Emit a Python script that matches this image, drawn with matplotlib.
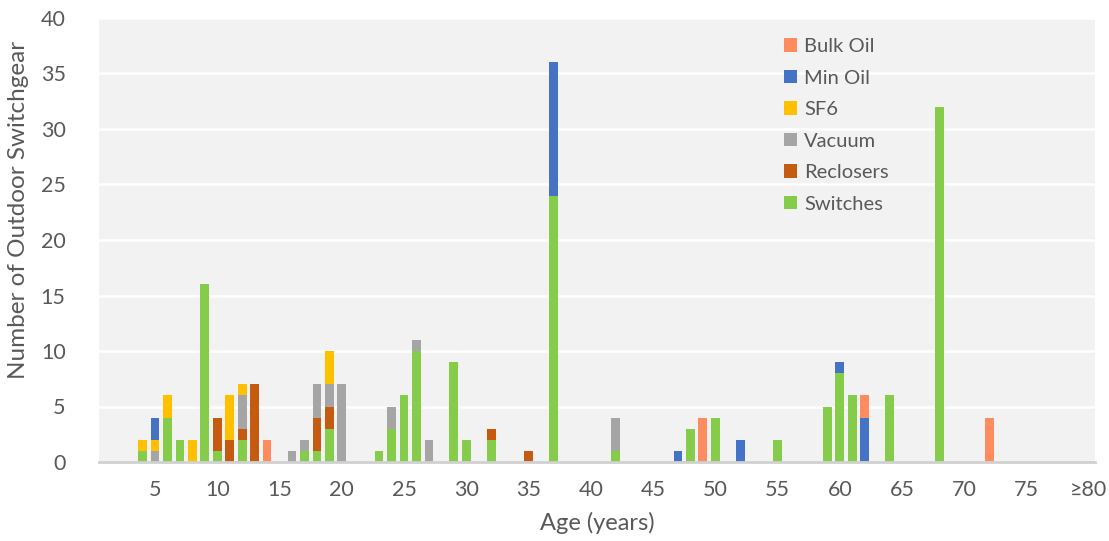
import matplotlib
matplotlib.use("Agg")
import matplotlib.pyplot as plt
import numpy as np

# ---- data (age in years -> count) ----
ages = list(range(1, 81))
switches = {4: 1, 6: 4, 7: 2, 9: 16, 10: 1, 12: 2, 17: 1, 18: 1, 19: 3, 23: 1, 24: 3,
            25: 6, 26: 10, 29: 9, 30: 2, 32: 2, 37: 24, 42: 1, 48: 3, 50: 4, 55: 2,
            59: 5, 60: 8, 61: 6, 64: 6, 68: 32}
reclosers = {10: 3, 11: 2, 12: 1, 13: 7, 18: 3, 19: 2, 32: 1, 35: 1}
vacuum = {5: 1, 12: 3, 16: 1, 17: 1, 18: 3, 19: 2, 20: 7, 24: 2, 26: 1, 27: 2, 42: 3}
sf6 = {4: 1, 5: 1, 6: 2, 8: 2, 11: 4, 12: 1, 19: 3}
min_oil = {5: 2, 37: 12, 47: 1, 52: 2, 60: 1, 62: 4}
bulk_oil = {14: 2, 49: 4, 62: 2, 72: 4}

tick_positions = list(range(5, 81, 5))
tick_labels = [str(a) for a in range(5, 80, 5)] + ["\u226580"]

series = [  # bottom to top
    ("Switches", switches, "#86CC4B"),
    ("Reclosers", reclosers, "#C55A11"),
    ("Vacuum", vacuum, "#A5A5A5"),
    ("SF6", sf6, "#FFC000"),
    ("Min Oil", min_oil, "#4472C4"),
    ("Bulk Oil", bulk_oil, "#FF8C5E"),
]

plt.rcParams['font.family'] = ['Lato', 'DejaVu Sans']
text_color = "#595959"

fig = plt.figure(figsize=(11.09, 5.41), dpi=100)
ax = fig.add_axes([99 / 1109, 1 - 462 / 541, 996 / 1109, 444 / 541])
ax.set_facecolor("#F2F2F2")

x = np.array(ages)
bottom = np.zeros(len(ages))
handles = []
for name, d, color in series:
    vals = np.array([d.get(a, 0) for a in ages], dtype=float)
    b = ax.bar(x, vals, width=0.7, bottom=bottom, color=color, label=name, zorder=3)
    handles.append(b)
    bottom += vals

ax.set_xlim(0.5, 80.5)
ax.set_ylim(0, 40)
ax.set_yticks(range(0, 41, 5))
ax.set_xticks(tick_positions)
ax.set_xticklabels(tick_labels)
ax.grid(axis='y', color='white', linewidth=1.8, zorder=0)
ax.set_axisbelow(True)
for s in ['top', 'right', 'left']:
    ax.spines[s].set_visible(False)
ax.spines['bottom'].set_color('#D0D0D0')
ax.spines['bottom'].set_linewidth(2)
ax.spines['bottom'].set_zorder(4)
ax.tick_params(axis='both', length=0, labelsize=15.5, colors=text_color)
ax.tick_params(axis='y', pad=24)
ax.tick_params(axis='x', pad=13)

fig.text(19 / 1109, 1 - 210 / 541, "Number of Outdoor Switchgear", rotation=90,
         ha='center', va='center', fontsize=17.5, color=text_color)
fig.text(597 / 1109, 1 - 523 / 541, "Age (years)", ha='center', va='center',
         fontsize=17, color=text_color)

leg = ax.legend(handles[::-1], [s[0] for s in series][::-1], loc='upper left',
                bbox_to_anchor=(766 / 1109, 1 - 20 / 541), bbox_transform=fig.transFigure,
                frameon=False, fontsize=14.5, handlelength=0.65, handleheight=0.65,
                handletextpad=0.35, labelspacing=0.72)
for t in leg.get_texts():
    t.set_color(text_color)

fig.savefig("out.png", dpi=100, facecolor='white')
